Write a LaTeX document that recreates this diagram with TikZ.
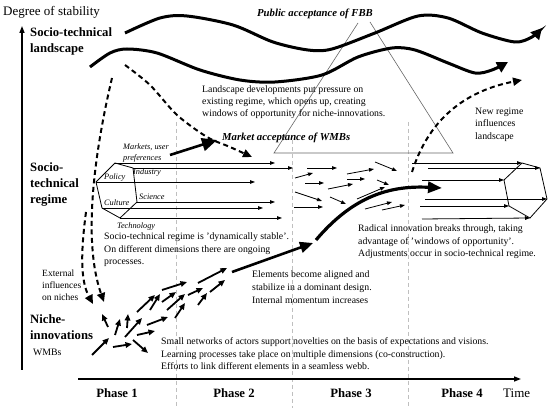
\documentclass[tikz,border=0pt]{standalone}
\usepackage{fontspec}
\setmainfont{Liberation Serif}
\usetikzlibrary{arrows.meta}
\begin{document}
\begin{tikzpicture}[x=1pt,y=-1pt,
  txt/.style={font=\fontsize{9.8}{12.6}\selectfont, align=left, anchor=north west, inner sep=0},
  lvl/.style={font=\fontsize{12.7}{16}\selectfont\bfseries, align=left, anchor=north west, inner sep=0},
  lab/.style={font=\fontsize{8.3}{10.8}\selectfont\itshape, align=left, anchor=west, inner sep=0},
  ttl/.style={font=\fontsize{10.7}{13}\selectfont\bfseries\itshape, anchor=west, inner sep=0},
  phase/.style={font=\fontsize{12.7}{15}\selectfont\bfseries, inner sep=0},
  axislab/.style={font=\fontsize{13}{15}\selectfont, anchor=west, inner sep=0},
  wave/.style={line width=3pt, -{Triangle[length=11pt,width=11pt]}},
  dsh/.style={line width=2pt, dash pattern=on 5pt off 3.5pt, -{Triangle[length=9pt,width=8pt]}},
  narr/.style={line width=1.8pt, -{Triangle[length=6.5pt,width=5.5pt]}},
  rarr/.style={line width=0.8pt, -{Triangle[length=5pt,width=3.6pt]}},
  thick arr/.style={line width=2.6pt, -{Triangle[length=13pt,width=11pt]}},
  gline/.style={black!25, line width=0.9pt, dash pattern=on 4pt off 3pt},
  tri/.style={black!60, line width=0.6pt},
  hexa/.style={line width=0.8pt}
]
\useasboundingbox (0,0) rectangle (550,414);

% phase separators
\draw[gline] (176,122) -- (176,408);
\draw[gline] (292,140) -- (292,408);
\draw[gline] (408,122) -- (408,408);

% axes
\draw[line width=1.5pt, -{Triangle[length=7pt,width=5pt]}] (22,370) -- (22,26);
\draw[line width=1.5pt, -{Triangle[length=7pt,width=5pt]}] (78,379) -- (521,379);
\node[axislab] (ydesc) at (3,12) {Degree of stability};
\node[axislab] (time) at (503,393) {Time};
\node[phase] (p1) at (117,393) {Phase 1};
\node[phase] (p2) at (234,393) {Phase 2};
\node[phase] (p3) at (351,393) {Phase 3};
\node[phase] (p4) at (462,393) {Phase 4};

% level labels
\node[lvl] (land) at (30,27.3) {Socio-technical\\landscape};
\node[lvl] (reg) at (30,162.3) {Socio-\\technical\\regime};
\node[lvl] (niche) at (30,314.3) {Niche-\\innovations};
\node[txt, anchor=west] (wmb) at (33,352) {WMBs};

% triangle
\draw[tri] (358,23) -- (274,153) -- (453,153) -- (370,22);

% landscape waves
\draw[wave] plot[smooth] coordinates {(125,33) (160,18) (187,16) (233,25) (273,42) (308,50) (332,49) (375,33) (418,16) (448,18) (482,33) (515,42) (532,37) (542,28)};
\draw[wave] plot[smooth] coordinates {(90,67) (110,53) (127,49) (157,53) (200,70) (240,80) (275,82) (322,75) (358,57) (392,48) (415,50) (448,63) (475,73) (492,70) (508,62)};

% dashed influences
\draw[dsh] plot[smooth] coordinates {(125,65) (150,85) (177,115) (207,137) (230,147) (252,157)};
\draw[dsh] (112,78) .. controls (95,150) and (82,240) .. (104,302);
\draw[dsh] (86,212) .. controls (81,250) and (80,280) .. (93,304);
\draw[dsh] (412,172) .. controls (430,115) and (470,90) .. (522,80);

% titles
\node[ttl] (pub) at (257,14) {Public acceptance of FBB};
\node[ttl] (mkt) at (222,138) {Market acceptance of WMBs};

% texts
\node[txt, font=\fontsize{9.8}{12}\selectfont] (landtxt) at (202,85.6) {Landscape developments put pressure on\\existing regime, which opens up, creating\\windows of opportunity for niche-innovations.};
\node[txt] (newreg) at (475,107.6) {New regime\\influences\\landscape};
\node[txt] (regtxt) at (104,232.6) {Socio-technical regime is 'dynamically stable'.\\On different dimensions there are ongoing\\processes.};
\node[txt, font=\fontsize{9.8}{13}\selectfont] (elem) at (252,270.6) {Elements become aligned and\\stabilize in a dominant design.\\Internal momentum increases};
\node[txt] (radical) at (358,224.6) {Radical innovation breaks through, taking\\advantage of 'windows of opportunity'.\\Adjustments occur in socio-technical regime.};
\node[txt] (small) at (161,337.6) {Small networks of actors support novelties on the basis of expectations and visions.\\Learning processes take place on multiple dimensions (co-construction).\\Efforts to link different elements in a seamless webb.};
\node[txt, font=\fontsize{9.5}{12}\selectfont] (ext) at (42,269.7) {External\\influences\\on niches};

% regime labels
\node[lab, anchor=north west] (mkts) at (123,143.3) {Markets, user\\preferences};
\node[lab] (pol) at (104,178) {Policy};
\node[lab] (ind) at (133,173) {Industry};
\node[lab] (sci) at (139,197) {Science};
\node[lab] (cul) at (104,203) {Culture};
\node[lab] (tech) at (117,227) {Technology};

% left hexagon
\draw[hexa] (115,163) -- (133,168) -- (137,202) -- (120,218) -- (102,208) -- (96,182) -- cycle;
\draw[rarr] (115,163) -- (275,163);
\draw[rarr] (133,168) -- (293,168);
\draw[rarr] (96,182) -- (255,182);
\draw[rarr] (137,202) -- (275,202);
\draw[rarr] (102,208) -- (263,208);
\draw[rarr] (120,218) -- (282,218);

% phase 3 scattered arrows
\draw[rarr] (295,178) -- (313,173);
\draw[rarr] (305,183) -- (324,183);
\draw[rarr] (307,168) -- (337,168);
\draw[rarr] (295,192) -- (322,201);
\draw[rarr] (294,207) -- (323,207);
\draw[rarr] (330,197) -- (346,204);
\draw[rarr] (347,174) -- (374,169);
\draw[rarr] (347,179) -- (365,179);
\draw[rarr] (328,189) -- (353,184);
\draw[rarr] (375,162) -- (397,171);
\draw[rarr] (377,180) -- (389,185);
\draw[rarr] (357,199) -- (385,187);
\draw[rarr] (365,209) -- (392,202);
\draw[rarr] (382,210) -- (405,205);

% right hexagon
\draw[hexa] (522,163) -- (540,168) -- (547,199) -- (530,218) -- (509,206) -- (504,180) -- cycle;
\draw[rarr] (412,163) -- (522,163);
\draw[rarr] (428,168) -- (540,168);
\draw[rarr] (422,180) -- (504,180);
\draw[rarr] (425,199) -- (547,199);
\draw[rarr] (420,206) -- (509,206);
\draw[rarr] (422,219) -- (530,218);

% market preference arrow
\draw[thick arr, -{Triangle[length=15pt,width=13pt]}] (170,155) -- (217,140);

% niche arrows
\draw[narr] (92,355) -- (109,338);
\draw[narr] (113,347) -- (132,344);
\draw[narr] (133,340) -- (148,353);
\draw[narr] (108,327) -- (102,314);
\draw[narr] (115,335) -- (120,319);
\draw[narr] (127,328) -- (128,314);
\draw[narr] (125,337) -- (142,318);
\draw[narr] (137,335) -- (155,331);
\draw[narr] (147,325) -- (168,317);
\draw[narr] (137,312) -- (155,295);
\draw[narr] (150,310) -- (160,294);
\draw[narr] (167,310) -- (185,294);
\draw[narr] (175,318) -- (185,303);
\draw[narr] (162,290) -- (187,282);
\draw[narr] (162,302) -- (176,292);
\draw[narr] (188,295) -- (203,288);
\draw[narr] (198,283) -- (227,268);
\draw[narr] (210,292) -- (225,280);
\draw[narr] (198,305) -- (207,293);

% main trajectory
\draw[thick arr] (232,272) -- (313,243);
\draw[thick arr, line width=3.2pt, -{Triangle[length=14pt,width=11pt]}] (316,240) .. controls (350,200) and (385,185) .. (442,188);

\end{tikzpicture}
\end{document}
